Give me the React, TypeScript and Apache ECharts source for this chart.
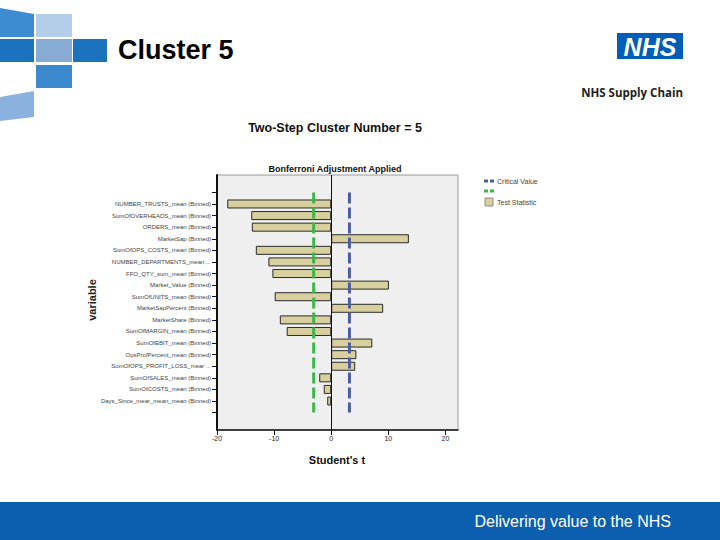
import React, { useEffect, useRef } from 'react';
import * as echarts from 'echarts';

const variables = [
  'NUMBER_TRUSTS_mean (Binned)',
  'SumOfOVERHEADS_mean (Binned)',
  'ORDERS_mean (Binned)',
  'MarketSap (Binned)',
  'SumOfOPS_COSTS_mean (Binned)',
  'NUMBER_DEPARTMENTS_mean ...',
  'FFO_QTY_sum_mean (Binned)',
  'Market_Value (Binned)',
  'SumOfUNITS_mean (Binned)',
  'MarketSapPercent (Binned)',
  'MarketShare (Binned)',
  'SumOfMARGIN_mean (Binned)',
  'SumOfEBIT_mean (Binned)',
  'OpsProfPercent_mean (Binned)',
  'SumOfOPS_PROFIT_LOSS_mear ...',
  'SumOfSALES_mean (Binned)',
  'SumOfCOSTS_mean (Binned)',
  'Days_Since_mear_mean_mean (Binned)',
];
const tValues = [-18.2, -14.0, -13.9, 13.6, -13.2, -11.0, -10.3, 10.1, -9.9, 9.1, -9.0, -7.8, 7.2, 4.4, 4.2, -2.1, -1.3, -0.7];
const criticalLow = -3.07;
const criticalHigh = 3.19;
const xTickValues = [-20, -10, 0, 10, 20];
const padTop = ['pad0', 'pad1'];
const padBottom = ['pad2', 'pad3'];

export default function App() {
  const ref = useRef<HTMLDivElement>(null);
  useEffect(() => {
    if (!ref.current) return;
    const chart = echarts.init(ref.current, undefined, { renderer: 'svg' });
    const cats = [...padTop, ...variables, ...padBottom];
    const barData = cats.map((c) => {
      const i = variables.indexOf(c);
      return i >= 0 ? tValues[i] : null;
    });
    const firstLine = padTop.length - 1;
    const lastLine = padTop.length + variables.length;
    const font = 'Arial, "Liberation Sans", sans-serif';

    chart.setOption({
      animation: false,
      backgroundColor: '#ffffff',
      grid: {
        left: 217, right: 262, top: 175, bottom: 110,
        show: true, backgroundColor: '#efefef', borderColor: '#9a9a9a', borderWidth: 1,
      },
      xAxis: {
        type: 'value', min: -20, max: 22.2,
        splitLine: { show: false },
        axisLine: { show: true, onZero: false, lineStyle: { color: '#111', width: 1.5 } },
        axisTick: { show: true, length: 5, customValues: xTickValues, lineStyle: { color: '#111' } },
        axisLabel: { customValues: xTickValues, fontSize: 7, color: '#222', margin: 5, fontFamily: font },
      },
      yAxis: {
        type: 'category', inverse: true, data: cats, boundaryGap: true,
        axisLine: { show: true, onZero: false, lineStyle: { color: '#111', width: 2 } },
        axisTick: {
          show: true, length: 5, alignWithLabel: true,
          interval: (idx: number) => idx >= firstLine && idx <= lastLine,
          lineStyle: { color: '#111' },
        },
        axisLabel: {
          interval: 0, fontSize: 6, color: '#444', margin: 6, fontFamily: font,
          formatter: (v: string) => (v.startsWith('pad') ? '' : v),
        },
        splitLine: { show: false },
      },
      series: [
        {
          type: 'bar', data: barData, barWidth: 9,
          itemStyle: { color: '#d7cf9e', borderColor: '#2a2a2a', borderWidth: 1 },
          markLine: {
            silent: true, symbol: 'none', label: { show: false },
            lineStyle: { color: '#111', width: 1, type: 'solid' },
            data: [{ xAxis: 0 }],
          },
          z: 2,
        },
        {
          type: 'line', data: [[criticalLow, firstLine], [criticalLow, lastLine]],
          symbol: 'none', lineStyle: { color: '#3db54a', width: 3, type: [11, 4] }, z: 5,
        },
        {
          type: 'line', data: [[criticalHigh, firstLine], [criticalHigh, lastLine]],
          symbol: 'none', lineStyle: { color: '#4a5ea8', width: 3, type: [11, 4] }, z: 5,
        },
      ],
      graphic: [
        // logo squares
        { type: 'polygon', shape: { points: [[0, 8], [34, 14], [34, 37], [0, 37]] }, style: { fill: '#3d8bd0' } },
        { type: 'rect', shape: { x: 36, y: 14, width: 36, height: 23 }, style: { fill: '#b4cde9' } },
        { type: 'rect', shape: { x: 0, y: 39, width: 34, height: 23 }, style: { fill: '#1b72bd' } },
        { type: 'rect', shape: { x: 36, y: 39, width: 36, height: 23 }, style: { fill: '#88abd6' } },
        { type: 'rect', shape: { x: 73, y: 39, width: 34, height: 23 }, style: { fill: '#1b72bd' } },
        { type: 'rect', shape: { x: 36, y: 65, width: 36, height: 23 }, style: { fill: '#3a8acd' } },
        { type: 'polygon', shape: { points: [[0, 97], [34, 91], [34, 117], [0, 121]] }, style: { fill: '#8bb2de' } },
        { type: 'text', x: 118, y: 50, style: { text: 'Cluster 5', fontSize: 27, fontWeight: 'bold', fill: '#000', fontFamily: font, textVerticalAlign: 'middle' } },
        // NHS logo
        { type: 'rect', shape: { x: 617, y: 33, width: 66, height: 26 }, style: { fill: '#005eb8' } },
        { type: 'text', x: 650, y: 47, style: { text: 'NHS', fontSize: 25, fontWeight: 'bold', fontStyle: 'italic', fill: '#fff', fontFamily: font, textAlign: 'center', textVerticalAlign: 'middle' } },
        { type: 'text', x: 683, y: 92, style: { text: 'NHS Supply Chain', fontSize: 11.5, fontWeight: 'bold', fill: '#222', fontFamily: '"Open Sans", sans-serif', textAlign: 'right', textVerticalAlign: 'middle' } },
        // chart titles
        { type: 'text', x: 335, y: 128, style: { text: 'Two-Step Cluster Number = 5', fontSize: 12.5, fontWeight: 'bold', fill: '#111', fontFamily: font, textAlign: 'center', textVerticalAlign: 'middle' } },
        { type: 'text', x: 335, y: 169, style: { text: 'Bonferroni Adjustment Applied', fontSize: 9, fontWeight: 'bold', fill: '#111', fontFamily: font, textAlign: 'center', textVerticalAlign: 'middle' } },
        { type: 'text', x: 337, y: 460, style: { text: "Student's t", fontSize: 11, fontWeight: 'bold', fill: '#111', fontFamily: font, textAlign: 'center', textVerticalAlign: 'middle' } },
        { type: 'text', x: 92, y: 300, rotation: Math.PI / 2, style: { text: 'variable', fontSize: 11, fontWeight: 'bold', fill: '#222', fontFamily: font, textAlign: 'center', textVerticalAlign: 'middle' } },
        // legend
        { type: 'line', shape: { x1: 484, y1: 181, x2: 495, y2: 181 }, style: { stroke: '#4a5ea8', lineWidth: 3, lineDash: [4, 2] } },
        { type: 'text', x: 497, y: 181, style: { text: 'Critical Value', fontSize: 7, fill: '#444', fontFamily: font, textVerticalAlign: 'middle' } },
        { type: 'line', shape: { x1: 484, y1: 191, x2: 495, y2: 191 }, style: { stroke: '#3db54a', lineWidth: 3, lineDash: [4, 2] } },
        { type: 'rect', shape: { x: 485, y: 198, width: 8, height: 8 }, style: { fill: '#d7cf9e', stroke: '#777', lineWidth: 0.8 } },
        { type: 'text', x: 497, y: 202, style: { text: 'Test Statistic', fontSize: 7, fill: '#444', fontFamily: font, textVerticalAlign: 'middle' } },
        // footer
        { type: 'rect', shape: { x: 0, y: 502, width: 720, height: 38 }, style: { fill: '#0b5fae' } },
        { type: 'text', x: 671, y: 521, style: { text: 'Delivering value to the NHS', fontSize: 16, fill: '#fff', fontFamily: font, textAlign: 'right', textVerticalAlign: 'middle' } },
      ],
    });
    return () => chart.dispose();
  }, []);
  return <div ref={ref} style={{ position: 'fixed', left: 0, top: 0, width: 720, height: 540 }} />;
}
